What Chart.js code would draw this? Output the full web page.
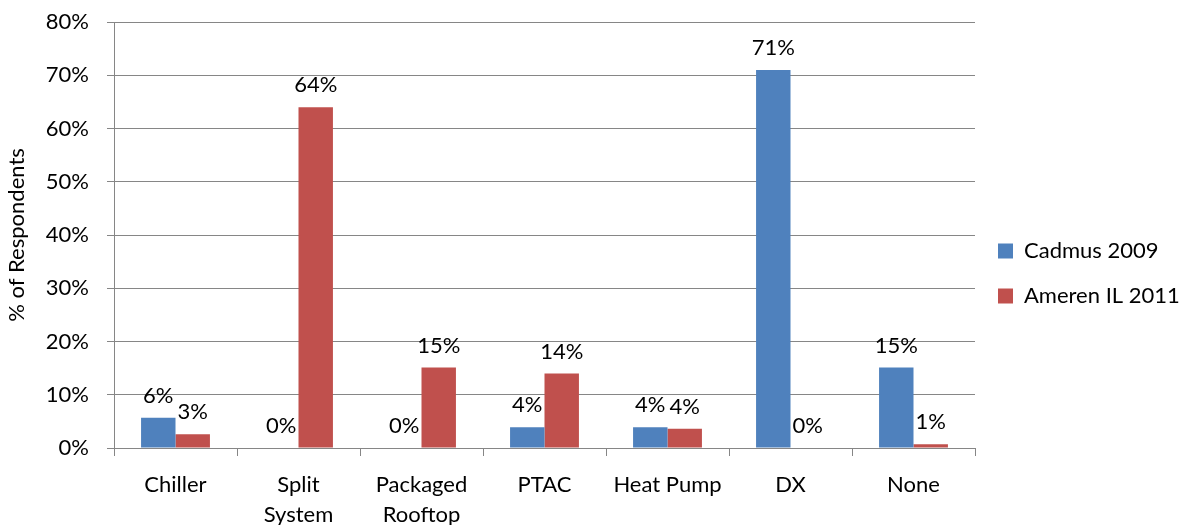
<!DOCTYPE html>
<html>
<head>
<meta charset="utf-8">
<script src="https://cdn.jsdelivr.net/npm/chart.js@4/dist/chart.umd.min.js"></script>
<style>
  html, body { margin: 0; padding: 0; background: #fff; }
  #wrap { width: 1183px; height: 525px; }
</style>
</head>
<body>
<div id="wrap"><canvas id="chart" width="1183" height="525"></canvas></div>
<script>
// values (percent of respondents)
const categories = ['Chiller', ['Split', 'System'], ['Packaged', 'Rooftop'], 'PTAC', 'Heat Pump', 'DX', 'None'];
const seriesNames = ['Cadmus 2009', 'Ameren IL 2011'];
const cadmus2009 = [5.7, 0, 0, 3.9, 3.9, 71, 15.1];
const amerenIL2011 = [2.6, 64, 15.1, 14, 3.6, 0, 0.7];
const yTicks = [0, 10, 20, 30, 40, 50, 60, 70, 80];

const FONT = 'Lato, "Liberation Sans", sans-serif';
const GRID = '#868686';

// draws the value label above each bar
const barLabels = {
    id: 'barLabels',
    afterDatasetsDraw(chart) {
        const ctx = chart.ctx;
        ctx.save();
        ctx.font = '22px ' + FONT;
        ctx.fillStyle = '#000';
        ctx.textAlign = 'center';
        ctx.textBaseline = 'middle';
        chart.data.datasets.forEach((ds, i) => {
            chart.getDatasetMeta(i).data.forEach((bar, j) => {
                ctx.fillText(Math.round(ds.data[j]) + '%', bar.x, bar.y - 22);
            });
        });
        ctx.restore();
    }
};

new Chart(document.getElementById('chart'), {
    type: 'bar',
    data: {
        labels: categories,
        datasets: [
            { label: seriesNames[0], data: cadmus2009, backgroundColor: '#4F81BD' },
            { label: seriesNames[1], data: amerenIL2011, backgroundColor: '#C0504D' }
        ]
    },
    options: {
        responsive: false,
        animation: false,
        categoryPercentage: 0.56,
        barPercentage: 1,
        layout: { padding: { top: 22, right: 0, left: 0, bottom: 0 } },
        plugins: {
            tooltip: { enabled: false },
            legend: {
                position: 'right',
                maxWidth: 208,
                labels: {
                    boxWidth: 15,
                    boxHeight: 15,
                    padding: 23,
                    color: '#000',
                    font: { family: FONT, size: 22 }
                }
            }
        },
        scales: {
            x: {
                grid: { offset: true, drawOnChartArea: false, tickLength: 8, color: GRID },
                border: { color: GRID },
                ticks: {
                    color: '#000',
                    padding: 14,
                    maxRotation: 0,
                    autoSkip: false,
                    font: { family: FONT, size: 22, lineHeight: 1.35 }
                },
                afterFit(scale) { scale.height = 77; }
            },
            y: {
                min: 0,
                max: 80,
                afterBuildTicks(scale) { scale.ticks = yTicks.map(v => ({ value: v })); },
                grid: { color: GRID, tickLength: 7 },
                border: { color: GRID },
                ticks: {
                    color: '#000',
                    padding: 18,
                    font: { family: FONT, size: 22 },
                    callback: v => v + '%'
                },
                title: {
                    display: true,
                    text: '% of Respondents',
                    color: '#000',
                    padding: 4,
                    font: { family: FONT, size: 22 }
                },
                afterFit(scale) {
                    scale.width = 114;
                    scale.paddingTop = 0;
                    scale.paddingBottom = 0;
                }
            }
        }
    },
    plugins: [barLabels]
});
</script>
</body>
</html>
